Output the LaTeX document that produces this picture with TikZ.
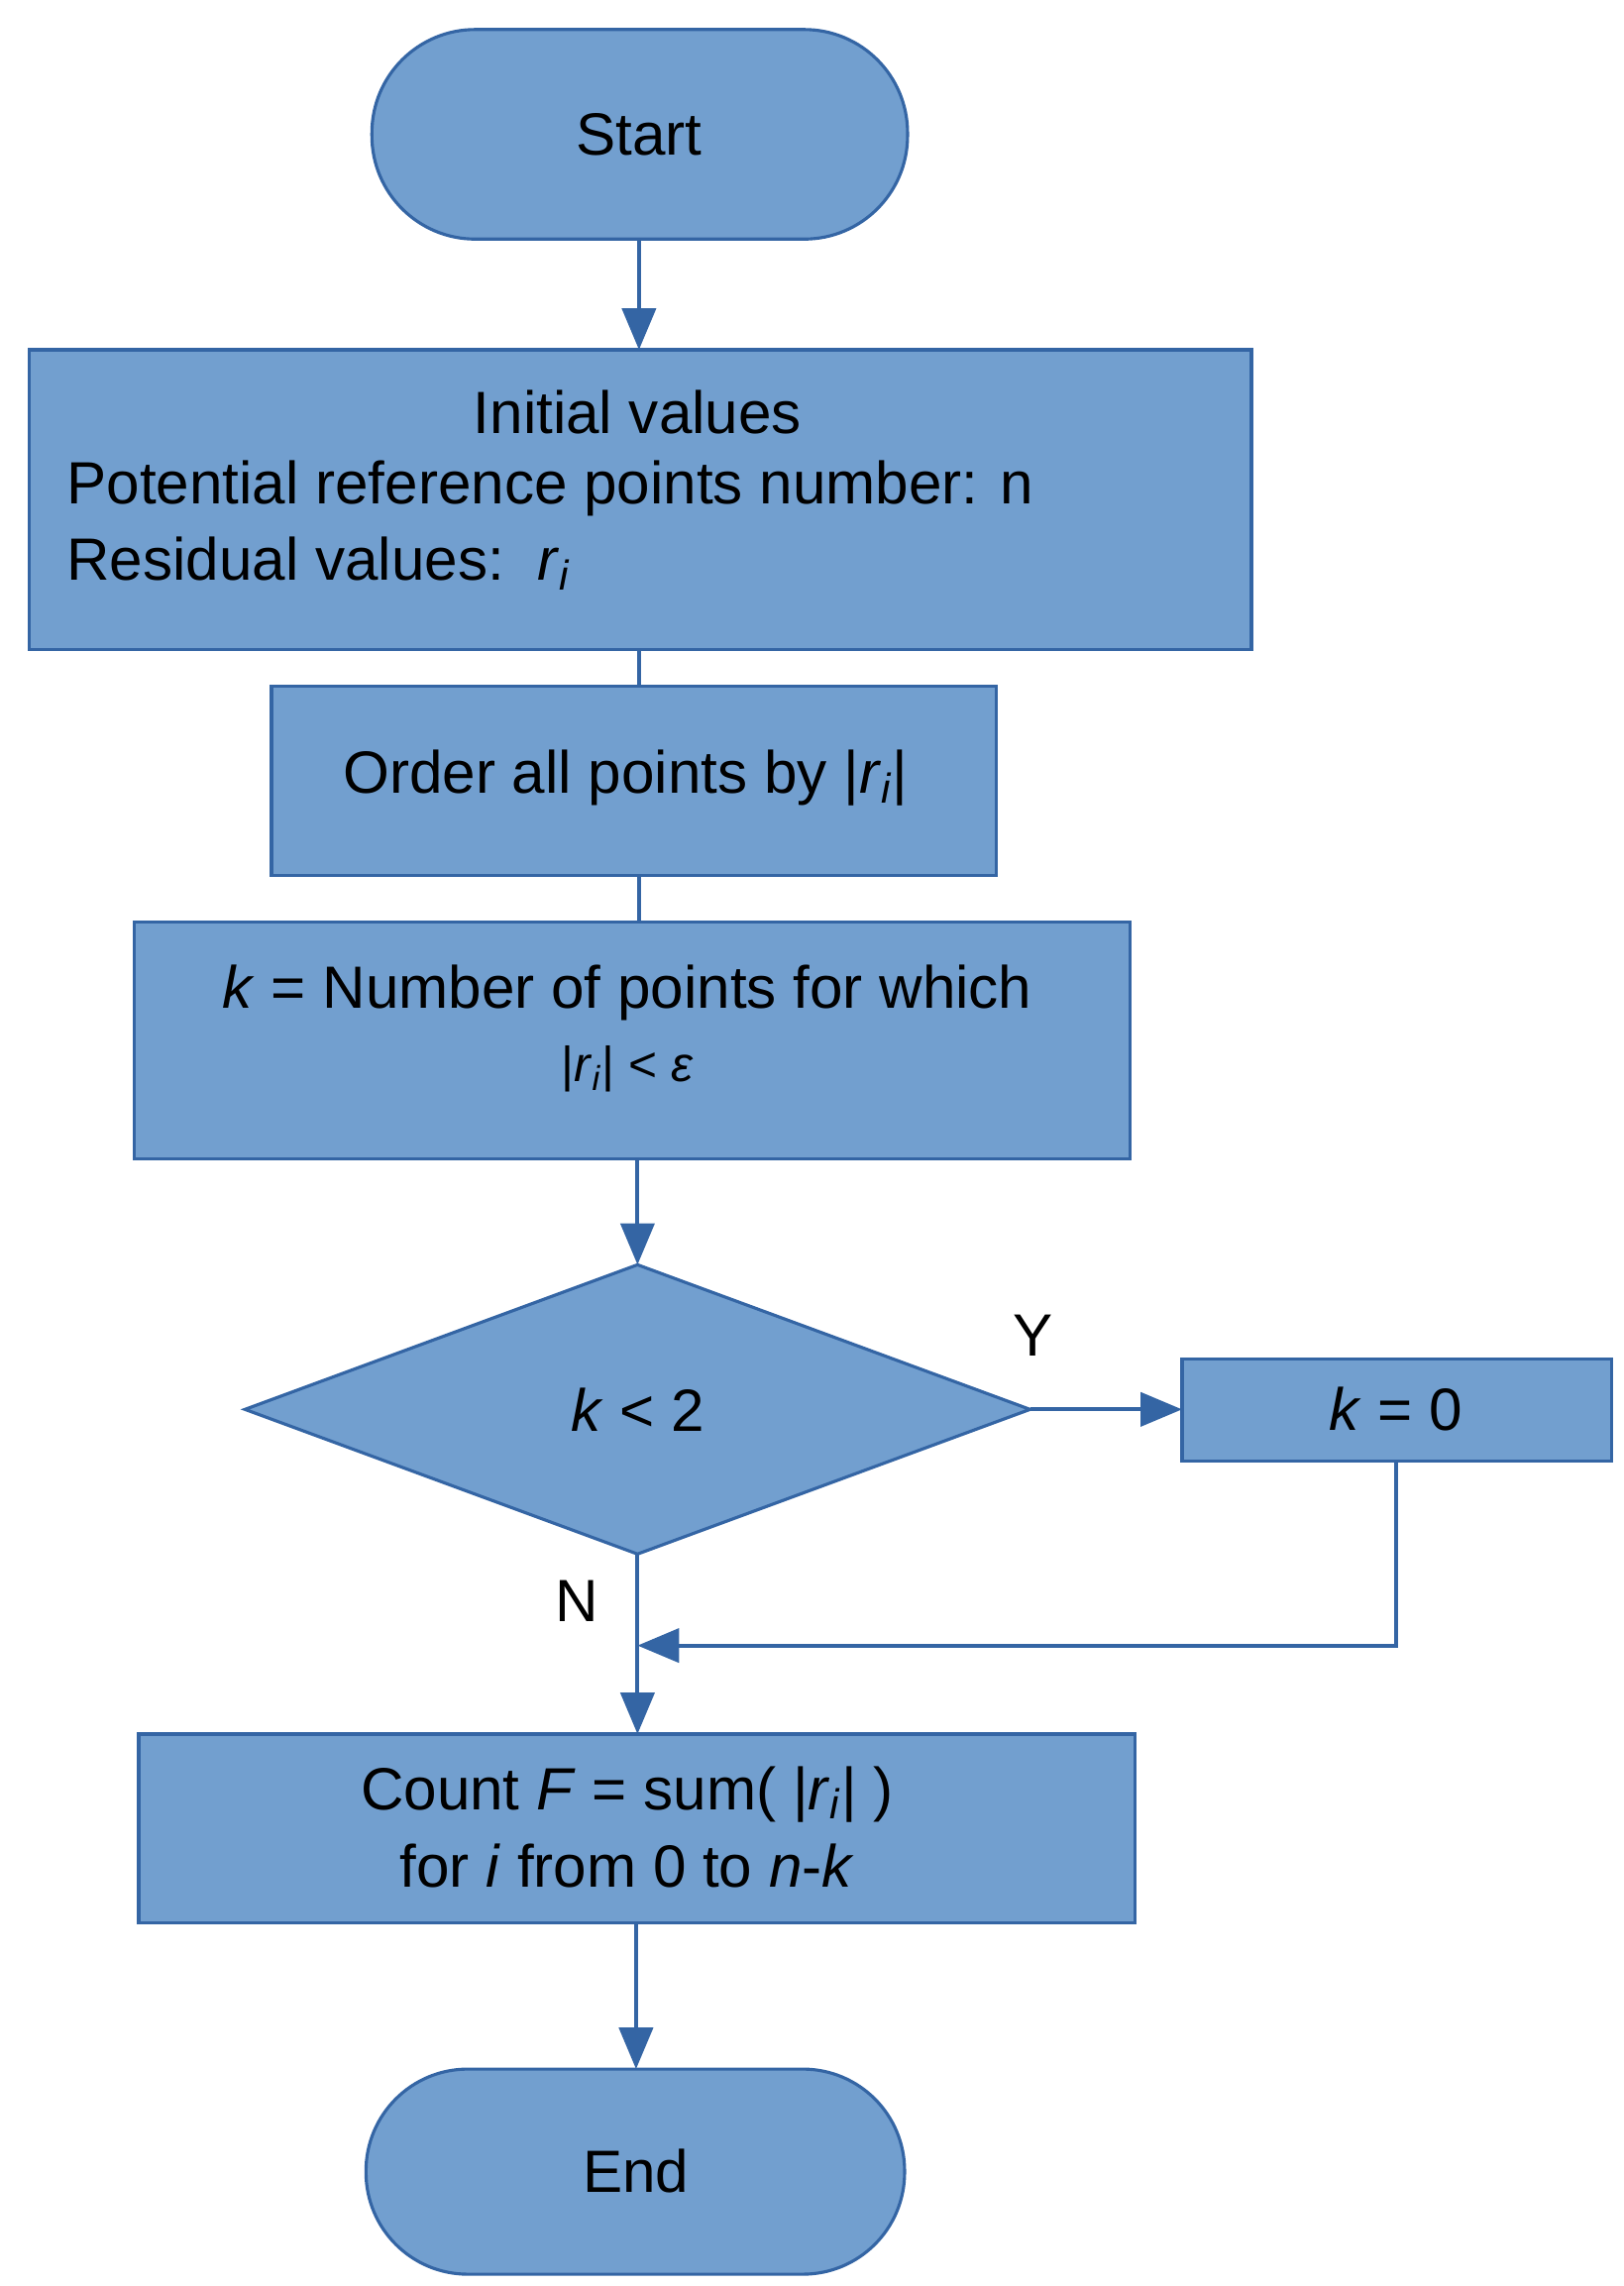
\documentclass[tikz,border=0pt]{standalone}
\usepackage{fontspec}
\setmainfont{Liberation Sans}
\usetikzlibrary{shapes.geometric,arrows.meta}
\newcommand{\rvar}{\textit{r}\textsubscript{\textit{i}}}
\begin{document}
\begin{tikzpicture}[x=0.02cm,y=-0.02cm,
  blk/.style={draw=blue!40!black!0,fill=fc,draw=bc,line width=1.2pt},
  txt/.style={font=\fontsize{23}{30}\selectfont,text=black,inner sep=0pt},
  arr/.style={draw=bc,line width=1.6pt,-{Triangle[length=16pt,width=13pt]}},
  ln/.style={draw=bc,line width=1.6pt}]
\definecolor{fc}{HTML}{729FCF}
\definecolor{bc}{HTML}{3465A4}
\colorlet{fc}{fc}
\useasboundingbox (0,0) rectangle (1100,1549);
% shapes
\draw[blk,rounded corners=70*0.02cm] (252,20) rectangle (615,162);
\node[txt] (start) at (433,91) {Start};
\draw[blk] (20,237) rectangle (848,440);
\node (init) at (434,338) {};
\node[txt] (t1) at (432,279) {Initial values};
\node[txt,anchor=west] (t2) at (45,331) {Potential reference points number: n};
\node[txt,anchor=west] (t3) at (45,382) {Residual values:\ \ \rvar};
\draw[blk] (184,465) rectangle (675,593);
\node[txt] (order) at (424,527) {Order all points by |\rvar|};
\draw[blk] (91,625) rectangle (766,785);
\node[txt,align=center] (kn) at (425,697) {\textit{k} = Number of points for which\\[-2pt] {\fontsize{19}{22}\selectfont |\rvar| < \textit{ε}}};
\draw[blk] (432,857) -- (698,955) -- (432,1053) -- (166,955) -- cycle;
\node[txt] (dec) at (432,955) {\textit{k} < 2};
\draw[blk] (801,921) rectangle (1092,990);
\node[txt] (k0) at (946,955) {\textit{k} = 0};
\draw[blk] (94,1175) rectangle (769,1303);
\node[txt,align=center] (count) at (425,1238) {Count \textit{F} = sum( |\rvar| )\\for \textit{i} from 0 to \textit{n}-\textit{k}};
\draw[blk,rounded corners=69*0.02cm] (248,1402) rectangle (613,1541);
\node[txt] (endn) at (431,1471) {End};
% connectors
\coordinate (a1) at (433,162); \coordinate (a2) at (433,237);
\draw[arr] (a1) -- (a2);
\coordinate (b1) at (433,440); \coordinate (b2) at (433,465);
\draw[ln] (b1) -- (b2);
\coordinate (c1) at (433,593); \coordinate (c2) at (433,625);
\draw[ln] (c1) -- (c2);
\coordinate (d1) at (432,785); \coordinate (d2) at (432,857);
\draw[arr] (d1) -- (d2);
\coordinate (e1) at (698,955); \coordinate (e2) at (801,955);
\draw[arr] (e1) -- (e2);
\node[txt] (Y) at (700,905) {Y};
\coordinate (f1) at (946,990); \coordinate (f2) at (432,1115);
\draw[arr] (f1) |- (f2);
\coordinate (g1) at (432,1053); \coordinate (g2) at (432,1175);
\draw[arr] (g1) -- (g2);
\node[txt] (N) at (391,1085) {N};
\coordinate (h1) at (431,1303); \coordinate (h2) at (431,1402);
\draw[arr] (h1) -- (h2);
\end{tikzpicture}
\end{document}
